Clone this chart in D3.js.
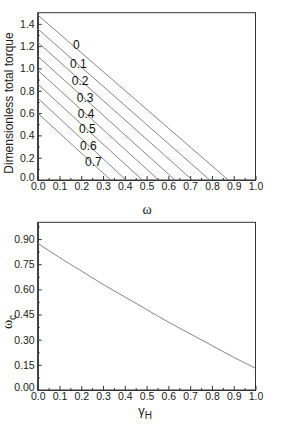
<!DOCTYPE html>
<html><head><meta charset="utf-8">
<script src="https://cdn.jsdelivr.net/npm/d3@7"></script>
<style>body{margin:0;background:#fff}svg{display:block}</style>
</head><body>
<svg id="c" width="303" height="446"></svg>
<script>
// Top chart: dimensionless torque vs omega, one line per gamma_H
const seriesLabels = ["0","0.1","0.2","0.3","0.4","0.5","0.6","0.7"];
const torqueAtZero = [1.48,1.355,1.235,1.11,0.985,0.86,0.735,0.60];
const omegaAtZeroTorque = [0.875,0.79,0.71,0.63,0.555,0.48,0.405,0.335];
const labelOmega = [0.177,0.187,0.195,0.218,0.222,0.228,0.233,0.256];
const labelTorque = [1.212,1.042,0.894,0.739,0.599,0.462,0.304,0.164];
// Bottom chart: omega_c vs gamma_H
const gammaH = [0,0.1,0.2,0.3,0.4,0.5,0.6,0.7,0.8,0.9,1.0];
const omegaC = [0.875,0.79,0.71,0.63,0.555,0.48,0.405,0.335,0.265,0.195,0.13];
const xTicks = [0,0.1,0.2,0.3,0.4,0.5,0.6,0.7,0.8,0.9,1.0];
const yTicksTop = [0,0.2,0.4,0.6,0.8,1.0,1.2,1.4];
const yTicksBottom = [0,0.15,0.30,0.45,0.60,0.75,0.90];

const svg = d3.select("#c");
const L = 37.7, R = 255.5;
const axisColor = "#333", lineColor = "#777";
const font = "Liberation Sans, Arial, sans-serif";

function panel(top, bottom, yMax, yTicks, yFmt, yMinorStep) {
  const x = d3.scaleLinear().domain([0,1]).range([L,R]);
  const y = d3.scaleLinear().domain([0,yMax]).range([bottom,top]);
  const g = svg.append("g");
  g.append("rect").attr("x",L).attr("y",top).attr("width",R-L).attr("height",bottom-top)
    .attr("fill","none").attr("stroke",axisColor).attr("stroke-width",1);
  const xa = g.append("g").attr("transform",`translate(0,${bottom})`)
    .call(d3.axisBottom(x).tickValues(xTicks).tickFormat(d3.format(".1f")).tickSizeInner(-4).tickSizeOuter(0).tickPadding(3));
  const xm = g.append("g").attr("transform",`translate(0,${bottom})`)
    .call(d3.axisBottom(x).tickValues(d3.range(0.05,1,0.1)).tickFormat("").tickSizeInner(-2).tickSizeOuter(0));
  const ya = g.append("g").attr("transform",`translate(${L},0)`)
    .call(d3.axisLeft(y).tickValues(yTicks).tickFormat(yFmt).tickSizeInner(-4).tickSizeOuter(0).tickPadding(3));
  const minors = d3.range(yMinorStep, yMax, yMinorStep*2);
  const ym = g.append("g").attr("transform",`translate(${L},0)`)
    .call(d3.axisLeft(y).tickValues(minors).tickFormat("").tickSizeInner(-2).tickSizeOuter(0));
  [xa,xm,ya,ym].forEach(a=>{
    a.select(".domain").attr("stroke",axisColor);
    a.selectAll("line").attr("stroke",axisColor);
    a.selectAll("text").attr("fill","#222").style("font-family",font).style("font-size","10.5px");
  });
  xa.selectAll("text").attr("dy","0.62em");
  ya.selectAll("text").filter(d=>d===0).attr("dy","0.05em");
  return {x,y,g};
}

// Top panel
const p1 = panel(12.7, 180, 1.5, yTicksTop, d3.format(".1f"), 0.1);
const line1 = d3.line().x(d=>p1.x(d[0])).y(d=>p1.y(d[1]));
seriesLabels.forEach((s,i)=>{
  p1.g.append("path").attr("d", line1([[0,torqueAtZero[i]],[omegaAtZeroTorque[i],0]]))
    .attr("fill","none").attr("stroke",lineColor).attr("stroke-width",0.9);
});
seriesLabels.forEach((s,i)=>{
  p1.g.append("text").attr("x",p1.x(labelOmega[i])).attr("y",p1.y(labelTorque[i]))
    .attr("text-anchor","middle").attr("dy","0.36em")
    .style("font-family",font).style("font-size","12px").attr("fill","#111").text(s);
});
svg.append("text").attr("transform","translate(13,103) rotate(-90)")
  .attr("text-anchor","middle").style("font-family",font).style("font-size","12px").attr("fill","#222")
  .text("Dimensionless total torque");
svg.append("text").attr("x",147).attr("y",214).attr("text-anchor","middle")
  .style("font-family","Liberation Serif, Times New Roman, serif").style("font-size","14px").attr("fill","#222").text("ω");

// Bottom panel
const p2 = panel(222.3, 390, 1.0, yTicksBottom, d3.format(".2f"), 0.075);
const line2 = d3.line().x((d,i)=>p2.x(gammaH[i])).y(d=>p2.y(d)).curve(d3.curveMonotoneX);
p2.g.append("path").attr("d", line2(omegaC)).attr("fill","none").attr("stroke",lineColor).attr("stroke-width",0.9);

const yl = svg.append("text").attr("transform","translate(12,322) rotate(-90)")
  .attr("text-anchor","middle").style("font-family","Liberation Serif, Times New Roman, serif").style("font-size","14px").attr("fill","#222");
yl.append("tspan").text("ω");
yl.append("tspan").attr("dy","4").style("font-size","10px").style("font-family",font).text("c");
const xl = svg.append("text").attr("x",145).attr("y",415).attr("text-anchor","middle")
  .style("font-family",font).style("font-size","13px").attr("fill","#222");
xl.append("tspan").text("γ");
xl.append("tspan").attr("dy","4").style("font-size","10px").text("H");
</script>
</body></html>
